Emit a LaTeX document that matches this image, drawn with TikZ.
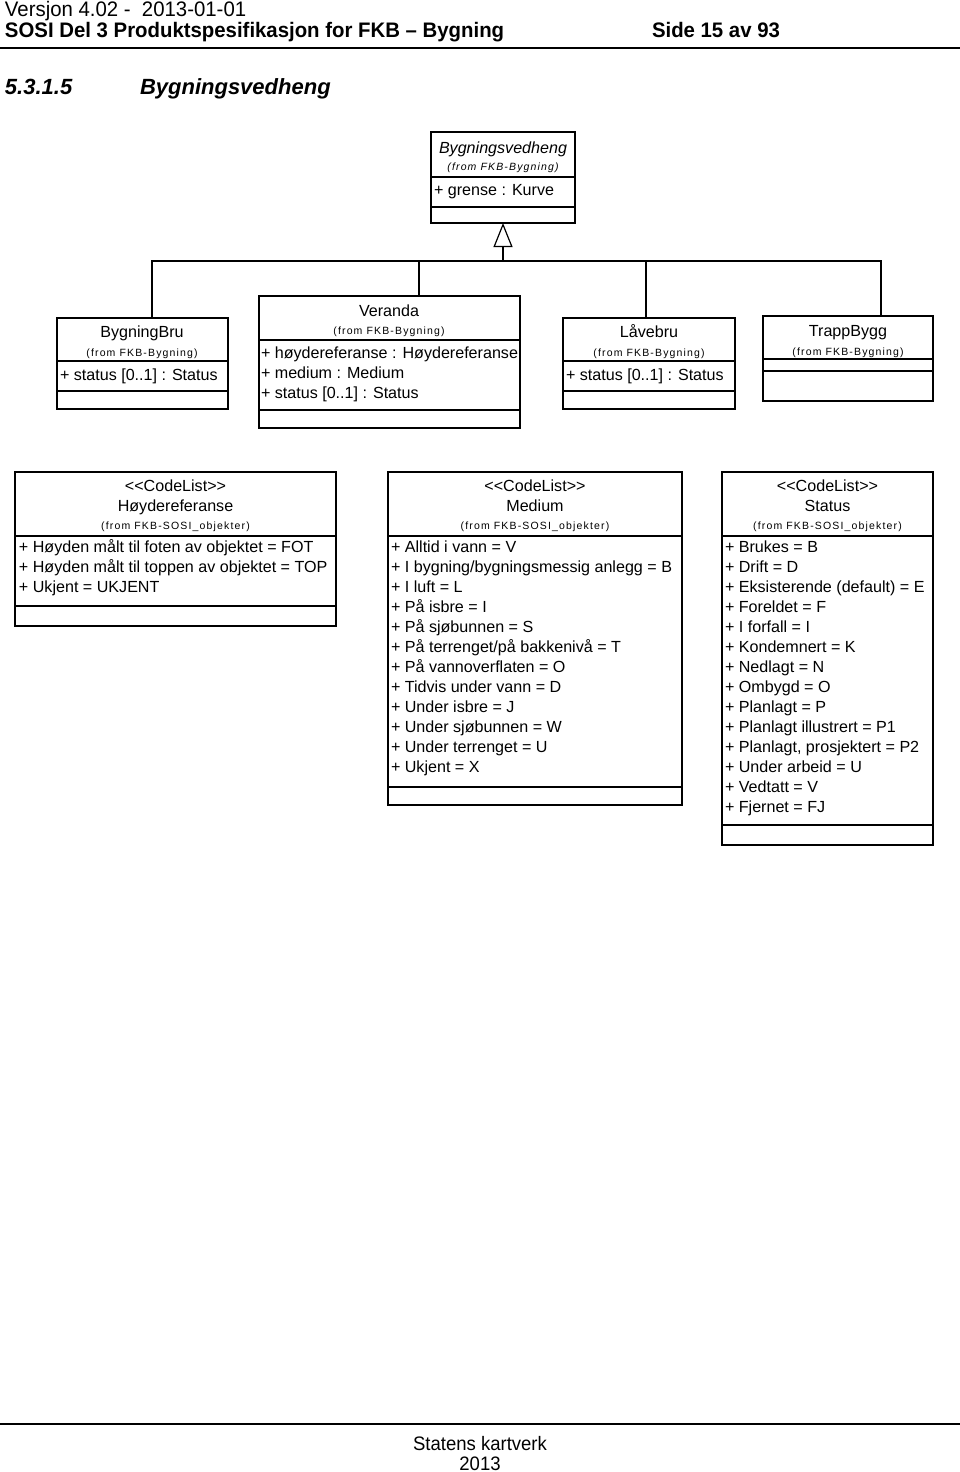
\documentclass[tikz,border=0pt]{standalone}
\usepackage{fontspec}
\setmainfont{Liberation Sans}
\newfontfamily\hdrfont{Liberation Sans}[FakeStretch=0.97]
\newfontfamily\footfont{Liberation Sans}[FakeStretch=0.95]
\newfontfamily\fromfont{Liberation Sans}[LetterSpace=11]
\usetikzlibrary{arrows.meta}

\begin{document}
\begin{tikzpicture}[x=1pt, y=-1pt,
  every node/.style={inner sep=0pt, outer sep=0pt},
  umlbox/.style={draw, line width=1.2pt, anchor=north west},
  umlline/.style={line width=1.2pt},
  umltxt/.style={anchor=base west, font=\fontsize{16.1}{20}\selectfont},
  umlname/.style={anchor=base, font=\fontsize{16.1}{20}\selectfont},
  umlabstract/.style={anchor=base, font=\itshape\fontsize{16.1}{20}\selectfont},
  umlfrom/.style={anchor=base, font=\fromfont\fontsize{10.5}{12}\selectfont},
  hdr/.style={anchor=base west, font=\hdrfont\fontsize{21}{24}\selectfont},
  hdrbold/.style={anchor=base west, font=\hdrfont\bfseries\fontsize{21}{24}\selectfont},
  sect/.style={anchor=base west, font=\bfseries\itshape\fontsize{22}{26}\selectfont},
  foot/.style={anchor=base, font=\footfont\fontsize{19.5}{22}\selectfont}
]
\fill[white] (0,0) rectangle (960,1472);
\useasboundingbox (0,0) rectangle (960,1472);

% page header
\node[hdr] (version) at (5,17) {Versjon 4.02 -\ \ 2013-01-01};
\node[hdrbold] (doctitle) at (5,38) {SOSI Del 3 Produktspesifikasjon for FKB – Bygning};
\node[hdrbold] (page) at (652,38) {Side 15 av 93};
\coordinate (top-l) at (0,48);
\coordinate (top-r) at (960,48);
\draw[line width=2pt] (top-l) -- (top-r);

\node[sect] (secnum) at (5,94) {5.3.1.5};
\node[sect] (sectitle) at (140,94) {Bygningsvedheng};

% superclass
\node[umlbox, minimum width=144pt, minimum height=91pt] (vedheng) at (431,132) {};
\node[umlabstract] (vedheng-name) at (503,153) {Bygningsvedheng};
\node[umlfrom, font=\fromfont\itshape\fontsize{10.5}{12}\selectfont] (vedheng-from) at (503,170) {(from FKB-Bygning)};
\node[umltxt] (vedheng-a1) at (434,195) {+ grense : Kurve};

% subclasses
\node[umlbox, minimum width=171pt, minimum height=91pt] (brua) at (57,318) {};
\node[umlname] (brua-name) at (142,337) {BygningBru};
\node[umlfrom] (brua-from) at (142,356) {(from FKB-Bygning)};
\node[umltxt] (brua-a1) at (60,380) {+ status [0..1] : Status};

\node[umlbox, minimum width=261pt, minimum height=132pt] (veranda) at (259,296) {};
\node[umlname] (veranda-name) at (389,316) {Veranda};
\node[umlfrom] (veranda-from) at (389,334) {(from FKB-Bygning)};
\node[umltxt] (veranda-a1) at (261,358) {+ høydereferanse : Høydereferanse};
\node[umltxt] (veranda-a2) at (261,378) {+ medium : Medium};
\node[umltxt] (veranda-a3) at (261,398) {+ status [0..1] : Status};

\node[umlbox, minimum width=172pt, minimum height=91pt] (laave) at (563,318) {};
\node[umlname] (laave-name) at (649,337) {Låvebru};
\node[umlfrom] (laave-from) at (649,356) {(from FKB-Bygning)};
\node[umltxt] (laave-a1) at (566,380) {+ status [0..1] : Status};

\node[umlbox, minimum width=170pt, minimum height=85pt] (trapp) at (763,316) {};
\node[umlname] (trapp-name) at (848,336) {TrappBygg};
\node[umlfrom] (trapp-from) at (848,355) {(from FKB-Bygning)};

% code lists
\node[umlbox, minimum width=321pt, minimum height=154pt] (hoyde) at (15,472) {};
\node[umlname] (hoyde-stereo) at (175.5,491) {<\kern0pt<CodeList>\kern0pt>};
\node[umlname] (hoyde-name) at (175.5,511) {Høydereferanse};
\node[umlfrom] (hoyde-from) at (175.5,529) {(from FKB-SOSI\_objekter)};
\foreach \entry [count=\i] in {{+ Høyden målt til foten av objektet = FOT},
    {+ Høyden målt til toppen av objektet = TOP}, {+ Ukjent = UKJENT}}
  \node[umltxt] (hoyde-\i) at (19,532+20*\i) {\entry};

\node[umlbox, minimum width=294pt, minimum height=333pt] (medium) at (388,472) {};
\node[umlname] (medium-stereo) at (535,491) {<\kern0pt<CodeList>\kern0pt>};
\node[umlname] (medium-name) at (535,511) {Medium};
\node[umlfrom] (medium-from) at (535,529) {(from FKB-SOSI\_objekter)};
\foreach \entry [count=\i] in {{+ Alltid i vann = V}, {+ I bygning/bygningsmessig anlegg = B},
    {+ I luft = L}, {+ På isbre = I}, {+ På sjøbunnen = S}, {+ På terrenget/på bakkenivå = T},
    {+ På vannoverflaten = O}, {+ Tidvis under vann = D}, {+ Under isbre = J},
    {+ Under sjøbunnen = W}, {+ Under terrenget = U}, {+ Ukjent = X}}
  \node[umltxt] (medium-\i) at (391,532+20*\i) {\entry};

\node[umlbox, minimum width=211pt, minimum height=373pt] (status) at (722,472) {};
\node[umlname] (status-stereo) at (827.5,491) {<\kern0pt<CodeList>\kern0pt>};
\node[umlname] (status-name) at (827.5,511) {Status};
\node[umlfrom] (status-from) at (827.5,529) {(from FKB-SOSI\_objekter)};
\foreach \entry [count=\i] in {{+ Brukes = B}, {+ Drift = D}, {+ Eksisterende (default) = E},
    {+ Foreldet = F}, {+ I forfall = I}, {+ Kondemnert = K}, {+ Nedlagt = N},
    {+ Ombygd = O}, {+ Planlagt = P}, {+ Planlagt illustrert = P1},
    {+ Planlagt, prosjektert = P2}, {+ Under arbeid = U}, {+ Vedtatt = V}, {+ Fjernet = FJ}}
  \node[umltxt] (status-\i) at (725,532+20*\i) {\entry};

% compartment lines
\foreach \cls/\ya/\yb in {vedheng/177/207, brua/361/391, veranda/340/410, laave/361/391,
    trapp/359/371, hoyde/536/606, medium/536/787, status/536/825}
  \draw[umlline] (\cls.west |- 0,\ya) -- (\cls.east |- 0,\ya)
                 (\cls.west |- 0,\yb) -- (\cls.east |- 0,\yb);

% generalisation
\coordinate (j1) at (152,261);
\coordinate (j2) at (419,261);
\coordinate (hub) at (503,261);
\coordinate (j3) at (646,261);
\coordinate (j4) at (881,261);
\draw[umlline] (j1 |- brua.north) -- (j1) -- (j4) -- (j4 |- trapp.north);
\draw[umlline] (j2) -- (j2 |- veranda.north);
\draw[umlline] (j3) -- (j3 |- laave.north);
\draw[umlline, -{Triangle[open, length=24pt, width=19pt]}] (hub) -- (vedheng.south);

% page footer
\coordinate (bot-l) at (0,1424);
\coordinate (bot-r) at (960,1424);
\draw[line width=1.5pt] (bot-l) -- (bot-r);
\node[foot] (org) at (480,1450) {Statens kartverk};
\node[foot] (year) at (480,1470) {2013};
\end{tikzpicture}
\end{document}
